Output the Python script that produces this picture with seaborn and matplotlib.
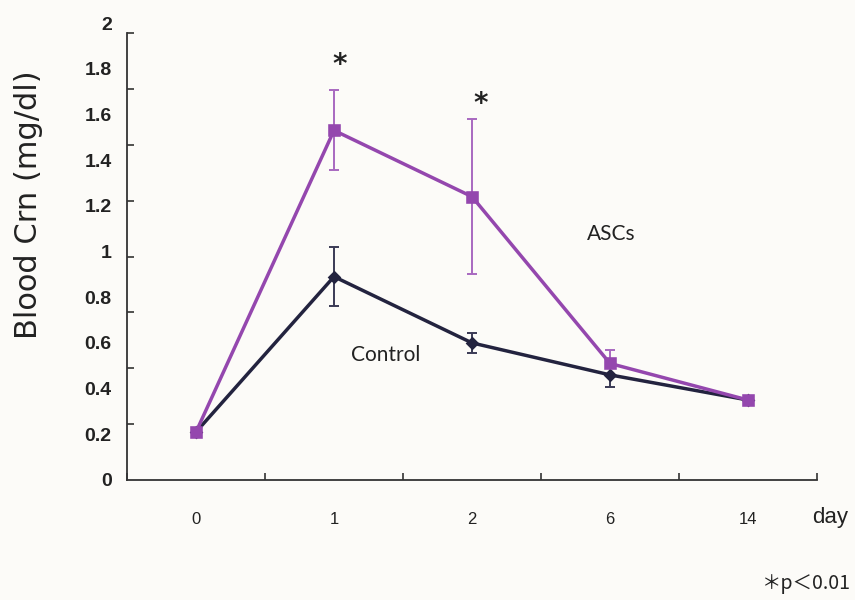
import numpy as np
import pandas as pd
import matplotlib
matplotlib.use("Agg")
import matplotlib.pyplot as plt
import seaborn as sns

days = ["0", "1", "2", "6", "14"]
control_mean = [0.21, 0.89, 0.60, 0.46, 0.35]
control_err = [0.0, 0.13, 0.045, 0.055, 0.0]
ascs_mean = [0.21, 1.53, 1.24, 0.51, 0.35]
ascs_err = [0.0, 0.175, 0.34, 0.057, 0.0]
ytick_values = [0, 0.2, 0.4, 0.6, 0.8, 1.0, 1.2, 1.4, 1.6, 1.8, 2.0]
ytick_labels = ["0", "0.2", "0.4", "0.6", "0.8", "1", "1.2", "1.4", "1.6", "1.8", "2"]

sns.set_theme(style="white")
bg = "#FCFBF8"
c_ascs = "#9447AE"
c_ctrl = "#23233F"

df = pd.DataFrame({
    "day": days * 2,
    "value": control_mean + ascs_mean,
    "group": ["Control"] * len(days) + ["ASCs"] * len(days),
})

fig = plt.figure(figsize=(8.55, 6.0), dpi=100, facecolor=bg)
ax = fig.add_axes([127 / 855, 0.2, (817 - 127) / 855, (480 - 23) / 600])
ax.set_facecolor(bg)

sns.pointplot(data=df, x="day", y="value", hue="group", order=days,
              hue_order=["Control", "ASCs"],
              palette={"Control": c_ctrl, "ASCs": c_ascs},
              markers=["D", "s"], linestyles=["-", "-"], errorbar=None,
              markersize=6, linewidth=2.5, legend=False, ax=ax)
ctrl_line, ascs_line = ax.lines[0], ax.lines[1]
ctrl_line.set_zorder(3)
ctrl_line.set_markersize(5.5)
ascs_line.set_zorder(4)
ascs_line.set_markersize(7)

ax.errorbar(np.arange(len(days)), control_mean, yerr=control_err, fmt="none",
            ecolor="#3A3A55", elinewidth=1.4, capsize=3.5, capthick=1.4, zorder=1)
ax.errorbar(np.arange(len(days)), ascs_mean, yerr=ascs_err, fmt="none",
            ecolor="#A868C0", elinewidth=1.4, capsize=3.5, capthick=1.4, zorder=1)

ax.set_xlim(-0.5, len(days) - 0.5)
ax.set_ylim(0, 2.0)
top_tick = 1.956

for s in ["top", "right"]:
    ax.spines[s].set_visible(False)
for s in ["left", "bottom"]:
    ax.spines[s].set_color("#333333")
    ax.spines[s].set_linewidth(1.3)
ax.spines["left"].set_bounds(0, top_tick)

ax.set_yticks(ytick_values)
ax.set_yticklabels(ytick_labels)
ax.set_xticks(range(len(days)))
ax.set_xticklabels(days)
ax.tick_params(axis="both", which="major", length=0)
ax.tick_params(axis="y", which="major", pad=11)
ax.tick_params(axis="x", which="major", pad=23)
for t in ax.get_yticklabels():
    t.set_fontfamily("Liberation Sans")
    t.set_fontweight("bold")
    t.set_fontsize(14)
    t.set_color("#222222")
for t in ax.get_xticklabels():
    t.set_fontfamily("Liberation Sans")
    t.set_fontsize(12)
    t.set_color("#222222")

ax.set_yticks(np.linspace(0, top_tick, 9), minor=True)
ax.set_xticks(np.arange(-0.5, len(days), 1.0), minor=True)
ax.tick_params(axis="both", which="minor", direction="in", length=5,
               width=1.2, color="#333333", left=True, bottom=True)

ax.set_xlabel("")
ax.set_ylabel("Blood Crn (mg/dl)", fontsize=22, fontfamily="DejaVu Sans",
              color="#222222")
ax.yaxis.label.set_verticalalignment("center")
ax.yaxis.set_label_coords((28 - 127) / 690, (480 - 205) / 457)

fig.text(830 / 855, 1 - 517 / 600, "day", fontsize=16,
         fontfamily="Liberation Sans",
         ha="center", va="center", color="#222222")
fig.text(851 / 855, 1 - 583 / 600, "＊p＜0.01", fontsize=14,
         fontfamily=["Noto Sans CJK JP", "DejaVu Sans"],
         ha="right", va="center", color="#222222")

ax.text(1.04, 1.815, "*", fontsize=20, fontweight="bold",
        ha="center", va="center", color="#222222")
ax.text(2.06, 1.645, "*", fontsize=20, fontweight="bold",
        ha="center", va="center", color="#222222")
ax.text(3.01, 1.077, "ASCs", fontsize=15, fontfamily="Lato",
        ha="center", va="center", color="#222222")
ax.text(1.375, 0.547, "Control", fontsize=15, fontfamily="Lato",
        ha="center", va="center", color="#222222")

fig.savefig("out.png", dpi=100, facecolor=bg)
